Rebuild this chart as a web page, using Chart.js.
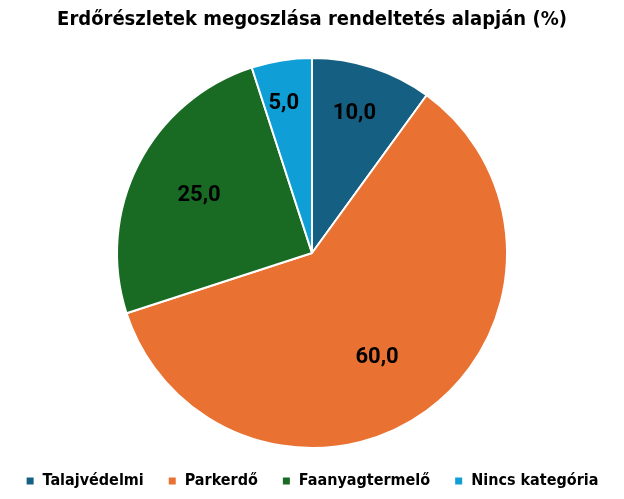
<!DOCTYPE html>
<html lang="hu">
<head>
<meta charset="utf-8">
<script src="https://cdn.jsdelivr.net/npm/chart.js@4"></script>
<style>
    html, body { margin: 0; padding: 0; background: #ffffff; }
    #wrap { width: 624px; height: 499px; }
</style>
</head>
<body>
<div id="wrap"><canvas id="pieChart"></canvas></div>
<script>
// Data
const categories = ['Talajvédelmi', 'Parkerdő', 'Faanyagtermelő', 'Nincs kategória'];
const shares = [10.0, 60.0, 25.0, 5.0];
const sliceColors = ['#156082', '#E97132', '#196B24', '#0F9ED5'];

const narrowFont = '"DejaVu Sans Condensed", "Liberation Sans Narrow", Arial, sans-serif';

// Value labels inside the slices (Excel style, comma decimal)
const sliceLabels = {
    id: 'sliceLabels',
    afterDatasetsDraw(chart, args, opts) {
        const ctx = chart.ctx;
        const meta = chart.getDatasetMeta(0);
        ctx.save();
        ctx.fillStyle = '#000000';
        ctx.font = 'bold 22px Roboto, sans-serif';
        ctx.textAlign = 'center';
        ctx.textBaseline = 'middle';
        meta.data.forEach((arc, i) => {
            const p = arc.getProps(['x', 'y', 'startAngle', 'endAngle', 'outerRadius'], true);
            const mid = (p.startAngle + p.endAngle) / 2 + opts.turns[i];
            const r = p.outerRadius * opts.offsets[i];
            const txt = shares[i].toFixed(1).replace('.', ',');
            ctx.fillText(txt, p.x + Math.cos(mid) * r, p.y + Math.sin(mid) * r);
        });
        ctx.restore();
    }
};

function initChart() {
    const ctx = document.getElementById('pieChart').getContext('2d');
    new Chart(ctx, {
        type: 'pie',
        data: {
            labels: categories,
            datasets: [{
                data: shares,
                backgroundColor: sliceColors,
                borderColor: '#ffffff',
                borderWidth: 2
            }]
        },
        options: {
            responsive: true,
            maintainAspectRatio: false,
            animation: false,
            layout: { padding: { top: 0, bottom: 0, left: 0, right: 0 } },
            plugins: {
                title: {
                    display: true,
                    text: 'Erdőrészletek megoszlása rendeltetés alapján (%)',
                    color: '#000000',
                    font: { family: narrowFont, size: 20, weight: 'bold' },
                    padding: { top: 8, bottom: 25 }
                },
                legend: {
                    position: 'bottom',
                    labels: {
                        color: '#000000',
                        font: { family: narrowFont, size: 16, weight: 'bold' },
                        usePointStyle: true,
                        pointStyle: 'rect',
                        boxWidth: 9,
                        boxHeight: 9,
                        padding: 24
                    }
                },
                tooltip: { enabled: false },
                sliceLabels: {
                    offsets: [0.75, 0.63, 0.65, 0.78],
                    turns: [-0.02, 0.07, 0, -0.03]
                }
            }
        },
        plugins: [sliceLabels]
    });
}

window.addEventListener('load', () => {
    initChart();
});
</script>
</body>
</html>
